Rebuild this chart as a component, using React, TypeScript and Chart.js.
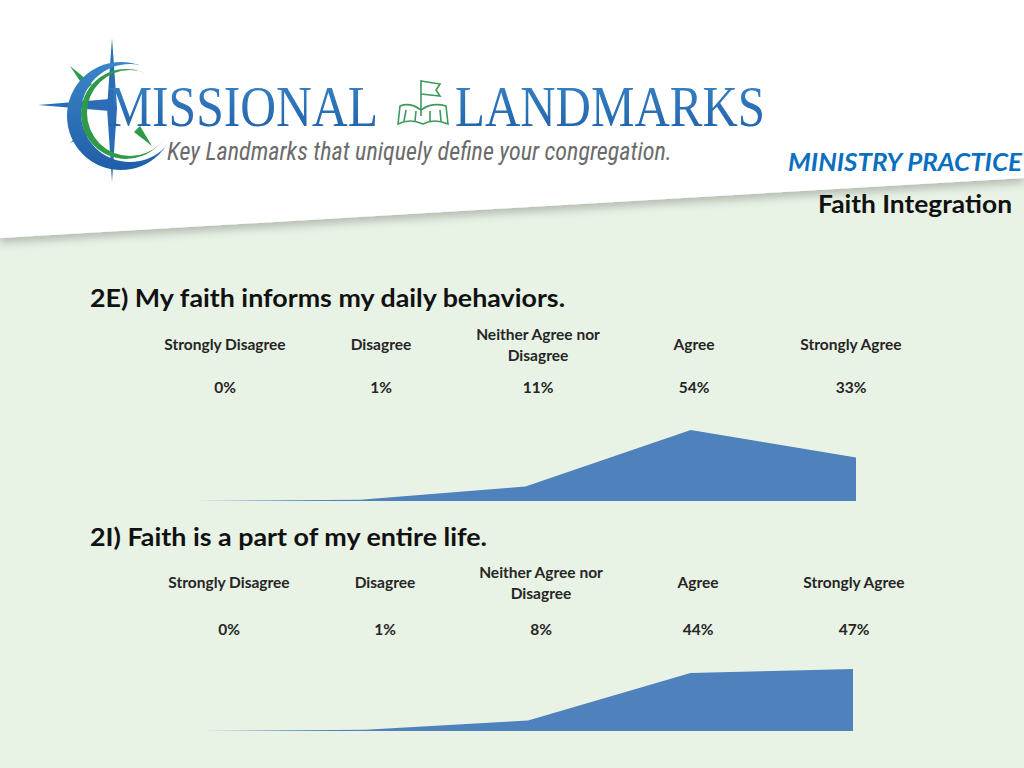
import React, { useEffect, useRef } from "react";
import { Chart, registerables } from "chart.js";

Chart.register(...registerables);

const categories = ["Strongly Disagree", "Disagree", "Neither Agree nor Disagree", "Agree", "Strongly Agree"];
const categoryLines = [["Strongly Disagree"], ["Disagree"], ["Neither Agree nor", "Disagree"], ["Agree"], ["Strongly Agree"]];
const q1Title = "2E) My faith informs my daily behaviors.";
const q1Values = [0, 1, 11, 54, 33];
const q2Title = "2I) Faith is a part of my entire life.";
const q2Values = [0, 1, 8, 44, 47];
const yMax = 60;

const FONT = "Lato, 'Open Sans', sans-serif";
const AREA = "#4f81bd";

function AreaChart({ values, left, top, width, height }: { values: number[]; left: number; top: number; width: number; height: number }) {
  const ref = useRef<HTMLCanvasElement | null>(null);
  useEffect(() => {
    if (!ref.current) return;
    const chart = new Chart(ref.current, {
      type: "line",
      data: {
        labels: categories,
        datasets: [
          {
            data: values,
            fill: "origin",
            backgroundColor: AREA,
            borderColor: AREA,
            borderWidth: 0,
            pointRadius: 0,
            tension: 0,
          },
        ],
      },
      options: {
        animation: false,
        responsive: false,
        maintainAspectRatio: false,
        devicePixelRatio: 1,
        layout: { padding: 0 },
        plugins: { legend: { display: false }, tooltip: { enabled: false } },
        scales: {
          x: { display: false, offset: false },
          y: { display: false, min: 0, max: yMax },
        },
      },
    });
    return () => chart.destroy();
  }, [values]);
  return (
    <canvas
      ref={ref}
      width={width}
      height={height}
      style={{ position: "absolute", left, top, width, height }}
    />
  );
}

function Labels({ centers, labelY, valueY, values }: { centers: number[]; labelY: number; valueY: number; values: number[] }) {
  return (
    <g fontFamily={FONT} fontWeight={700} fontSize={15.5} fill="#262626" textAnchor="middle">
      {categoryLines.map((lines, i) =>
        lines.length === 1 ? (
          <text key={"l" + i} x={centers[i]} y={labelY} dominantBaseline="central">
            {lines[0]}
          </text>
        ) : (
          lines.map((ln, j) => (
            <text key={"l" + i + "_" + j} x={centers[i]} y={labelY - 10.5 + j * 21} dominantBaseline="central">
              {ln}
            </text>
          ))
        )
      )}
      {values.map((v, i) => (
        <text key={"v" + i} x={centers[i]} y={valueY} dominantBaseline="central">
          {v + "%"}
        </text>
      ))}
    </g>
  );
}

export default function App() {
  return (
    <div style={{ position: "fixed", left: 0, top: 0, width: 1024, height: 768, overflow: "hidden", background: "#e8f2e5" }}>
      <svg width={1024} height={768} style={{ position: "absolute", left: 0, top: 0 }}>
        <defs>
          <filter id="sh" x="-10%" y="-10%" width="120%" height="140%">
            <feDropShadow dx="0" dy="5" stdDeviation="4" floodColor="#000" floodOpacity="0.22" />
          </filter>
          <linearGradient id="logoBlue" x1="0" y1="0" x2="0" y2="1">
            <stop offset="0" stopColor="#3a86c8" />
            <stop offset="1" stopColor="#1f5ea8" />
          </linearGradient>
          <mask id="crescentBlue">
            <rect x="0" y="0" width="300" height="300" fill="white" />
            <circle cx="130" cy="113" r="49" fill="black" />
          </mask>
          <mask id="crescentGreen">
            <rect x="0" y="0" width="300" height="300" fill="white" />
            <circle cx="130" cy="113" r="43" fill="black" />
          </mask>
        </defs>
        {/* white header with shadowed diagonal edge */}
        <polygon points="0,0 1024,0 1024,178 0,238" fill="#ffffff" filter="url(#sh)" />

        {/* compass logo */}
        <polygon points="112,38 117,108 112,182 107,108" fill="#2a6db5" />
        <polygon points="38,105 110,99 110,111" fill="#2a6db5" />
        <polygon points="70,66 92,84 86,90" fill="#2f9a48" />
        <polygon points="70,143 86,128 92,134" fill="#2f9a48" />
        <polygon points="152,146 134,132 140,126" fill="#2f9a48" />
        <circle cx="121" cy="116" r="54" fill="url(#logoBlue)" mask="url(#crescentBlue)" />
        <circle cx="126" cy="114" r="45" fill="#2f9a48" mask="url(#crescentGreen)" />

        {/* wordmark */}
        <text x={108} y={126} fontFamily="'Liberation Serif', 'DejaVu Serif', serif" fontSize={58} fill="url(#logoBlue)" textLength={270} lengthAdjust="spacingAndGlyphs">
          MISSIONAL
        </text>
        <text x={455} y={126} fontFamily="'Liberation Serif', 'DejaVu Serif', serif" fontSize={58} fill="url(#logoBlue)" textLength={310} lengthAdjust="spacingAndGlyphs">
          LANDMARKS
        </text>
        {/* flag + book icon */}
        <g fill="none" stroke="#3d9a5a" strokeWidth={1.6}>
          <line x1={421} y1={80} x2={421} y2={116} />
          <path d="M421,81 L440,84 L436,90 L440,96 L421,94" />
          <path d="M398,124 L400,106 Q410,102 421,110 Q432,102 446,106 L448,124 Q434,118 423,124 Q410,118 398,124 Z" />
          <path d="M404,121 L406,110 M415,121 L416,111 M430,121 L430,111 M441,121 L440,110" />
        </g>
        <text x={167} y={160} fontFamily="'Liberation Sans Narrow', 'Roboto Condensed', 'Liberation Sans', sans-serif" fontStyle="italic" fontSize={25} fill="#6b6b6b" textLength={505} lengthAdjust="spacingAndGlyphs">
          Key Landmarks that uniquely define your congregation.
        </text>

        {/* header right */}
        <text x={788} y={161} dominantBaseline="central" fontFamily={FONT} fontWeight={700} fontStyle="italic" fontSize={24} fill="#0b6fc0" textLength={234} lengthAdjust="spacingAndGlyphs">
          MINISTRY PRACTICE
        </text>
        <text x={818} y={203} dominantBaseline="central" fontFamily={FONT} fontWeight={700} fontSize={24} fill="#111" textLength={194} lengthAdjust="spacingAndGlyphs">
          Faith Integration
        </text>

        {/* question 1 */}
        <text x={90} y={297} dominantBaseline="central" fontFamily={FONT} fontWeight={700} fontSize={24} fill="#111" textLength={475} lengthAdjust="spacingAndGlyphs">
          {q1Title}
        </text>
        <Labels centers={[225, 381, 538, 694, 851]} labelY={344} valueY={387} values={q1Values} />

        {/* question 2 */}
        <text x={90} y={536} dominantBaseline="central" fontFamily={FONT} fontWeight={700} fontSize={24} fill="#111" textLength={397} lengthAdjust="spacingAndGlyphs">
          {q2Title}
        </text>
        <Labels centers={[229, 385, 541, 698, 854]} labelY={582} valueY={629} values={q2Values} />
      </svg>
      <AreaChart values={q1Values} left={195} top={422} width={661} height={79} />
      <AreaChart values={q2Values} left={203} top={652} width={650} height={79} />
    </div>
  );
}
